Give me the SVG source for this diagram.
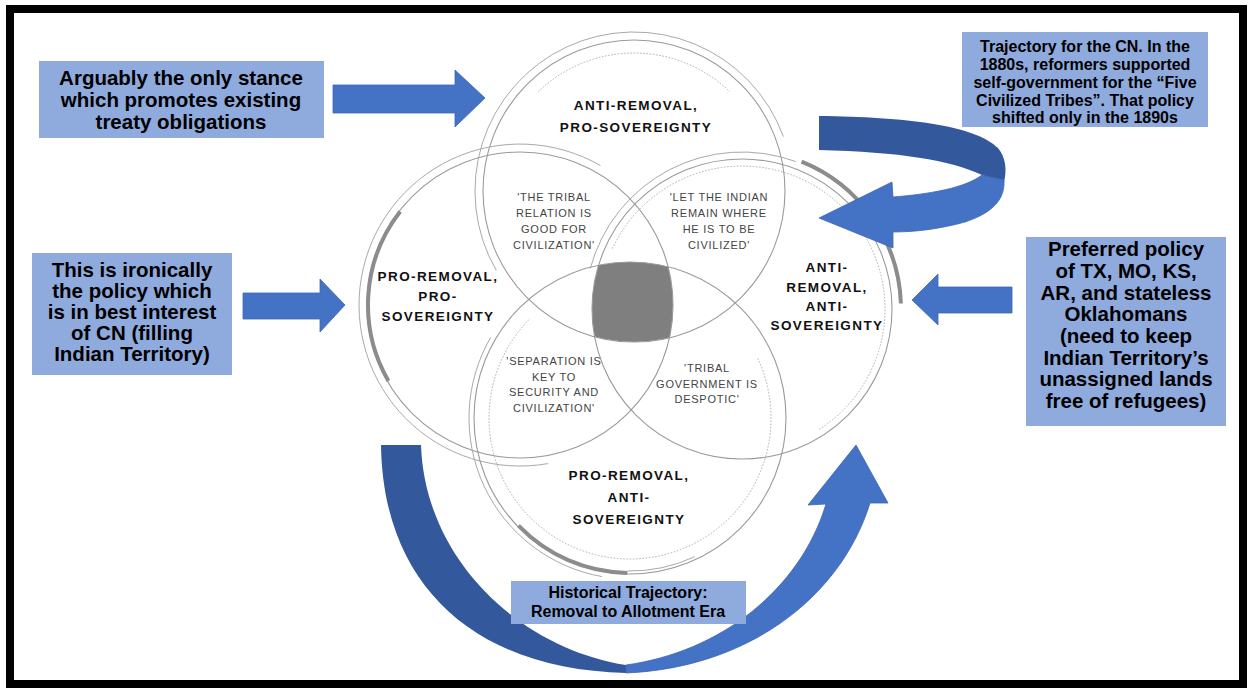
<svg xmlns="http://www.w3.org/2000/svg" width="1249" height="691" viewBox="0 0 1249 691">
  <defs>
    <style>
      .box { fill: #8faadc; }
      .boxtxt { font-family: "Liberation Sans", Arial, sans-serif; font-weight: bold; fill: #000; text-anchor: middle; }
      .ring { fill: none; stroke: #9a9a9a; stroke-width: 1.1; }
      .ring2 { fill: none; stroke: #a9a9a9; stroke-width: 1; }
      .dash { fill: none; stroke: #a6a6a6; stroke-width: 0.9; stroke-dasharray: 1.6 1.6; }
      .thick { fill: none; stroke: #8c8c8c; stroke-width: 4; }
      .title { font-family: "Liberation Sans", Arial, sans-serif; font-weight: bold; font-size: 13.5px; letter-spacing: 1.4px; fill: #111; text-anchor: middle; }
      .quote { font-family: "Liberation Sans", Arial, sans-serif; font-size: 11px; letter-spacing: 0.75px; fill: #444; text-anchor: middle; }
      .arrow { fill: #4472c4; stroke: #3d67b4; stroke-width: 0.8; }
      .dark { fill: #33589c; }
    </style>
    <clipPath id="clipTop"><circle cx="634" cy="191" r="151"/></clipPath>
    <clipPath id="clipLeft"><circle cx="520" cy="305" r="153"/></clipPath>
    <clipPath id="clipRight"><circle cx="742" cy="309" r="150"/></clipPath>
    <clipPath id="clipBottom"><circle cx="630" cy="418" r="156"/></clipPath>
  </defs>

  <rect width="1249" height="691" fill="#fff"/>
  <!-- outer frame -->
  <rect x="10" y="9" width="1233" height="675" fill="none" stroke="#000" stroke-width="8"/>

  <!-- shared core of the four stances -->
  <g id="core">
    <g clip-path="url(#clipTop)">
      <g clip-path="url(#clipLeft)">
        <g clip-path="url(#clipRight)">
          <rect x="560" y="240" width="140" height="130" fill="#7f7f7f" clip-path="url(#clipBottom)"/>
        </g>
      </g>
    </g>
  </g>

  <!-- top stance -->
  <g id="anti-removal-pro-sovereignty">
    <circle class="ring" cx="634" cy="191" r="151"/>
    <path class="ring2" d="M496.3,270.5 A159,159 0 1 1 783.4,136.6"/>
    <path class="dash" d="M538.1,91.8 A138,138 0 0 1 729.9,91.8"/>
    <text class="title" x="636" y="110">ANTI-REMOVAL,</text>
    <text class="title" x="636" y="132">PRO-SOVEREIGNTY</text>
  </g>

  <!-- left stance -->
  <g id="pro-removal-pro-sovereignty">
    <circle class="ring" cx="520" cy="305" r="153"/>
    <path class="ring2" d="M548,463.6 A161,161 0 1 1 600.5,165.6"/>
    <path class="thick" d="M388.4,381 A152,152 0 0 1 400.2,211.4"/>
    <text class="title" x="438" y="281">PRO-REMOVAL,</text>
    <text class="title" x="438" y="301">PRO-</text>
    <text class="title" x="438" y="321">SOVEREIGNTY</text>
  </g>

  <!-- right stance -->
  <g id="anti-removal-anti-sovereignty">
    <circle class="ring" cx="742" cy="309" r="150"/>
    <path class="ring2" d="M590.3,268.4 A157,157 0 0 1 795.7,161.5"/>
    <path class="dash" d="M612.4,248.6 A143,143 0 1 1 817.8,430.3"/>
    <path class="thick" d="M801.6,161.6 A159,159 0 0 1 900.9,303.5"/>
    <text class="title" x="827" y="272">ANTI-</text>
    <text class="title" x="827" y="292">REMOVAL,</text>
    <text class="title" x="827" y="311">ANTI-</text>
    <text class="title" x="827" y="330">SOVEREIGNTY</text>
  </g>

  <!-- bottom stance -->
  <g id="pro-removal-anti-sovereignty">
    <circle class="ring" cx="630" cy="418" r="156"/>
    <path class="ring2" d="M602,576.6 A161,161 0 0 1 490.6,337.5"/>
    <path class="ring2" d="M694.7,556.7 A153,153 0 0 1 627.3,571"/>
    <path class="dash" d="M757.8,358.4 A141,141 0 1 1 530.3,318.3"/>
    <path class="thick" d="M627.3,573 A155,155 0 0 1 518.5,525.7"/>
    <text class="title" x="629" y="480">PRO-REMOVAL,</text>
    <text class="title" x="629" y="502">ANTI-</text>
    <text class="title" x="629" y="524">SOVEREIGNTY</text>
  </g>

  <!-- overlap statements -->
  <g id="overlap-top-left">
    <text class="quote" x="554" y="201">'THE TRIBAL</text>
    <text class="quote" x="554" y="217">RELATION IS</text>
    <text class="quote" x="554" y="233">GOOD FOR</text>
    <text class="quote" x="554" y="249">CIVILIZATION'</text>
  </g>
  <g id="overlap-top-right">
    <text class="quote" x="719" y="201">'LET THE INDIAN</text>
    <text class="quote" x="719" y="217">REMAIN WHERE</text>
    <text class="quote" x="719" y="233">HE IS TO BE</text>
    <text class="quote" x="719" y="249">CIVILIZED'</text>
  </g>
  <g id="overlap-bottom-left">
    <text class="quote" x="554" y="365">'SEPARATION IS</text>
    <text class="quote" x="554" y="381">KEY TO</text>
    <text class="quote" x="554" y="396">SECURITY AND</text>
    <text class="quote" x="554" y="412">CIVILIZATION'</text>
  </g>
  <g id="overlap-bottom-right">
    <text class="quote" x="707" y="372">'TRIBAL</text>
    <text class="quote" x="707" y="388">GOVERNMENT IS</text>
    <text class="quote" x="707" y="403">DESPOTIC'</text>
  </g>

  <!-- annotation boxes -->
  <g id="box-treaty">
    <rect class="box" x="39" y="61" width="285" height="77"/>
    <text class="boxtxt" font-size="20.5" x="181" y="85">Arguably the only stance</text>
    <text class="boxtxt" font-size="20.5" x="181" y="107">which promotes existing</text>
    <text class="boxtxt" font-size="20.5" x="181" y="129">treaty obligations</text>
  </g>
  <g id="box-cn-interest">
    <rect class="box" x="32" y="253" width="200" height="122"/>
    <text class="boxtxt" font-size="20.5" x="132" y="277">This is ironically</text>
    <text class="boxtxt" font-size="20.5" x="132" y="298">the policy which</text>
    <text class="boxtxt" font-size="20.5" x="132" y="319">is in best interest</text>
    <text class="boxtxt" font-size="20.5" x="132" y="340">of CN (filling</text>
    <text class="boxtxt" font-size="20.5" x="132" y="361">Indian Territory)</text>
  </g>
  <g id="box-states">
    <rect class="box" x="1026" y="237" width="200" height="189"/>
    <text class="boxtxt" font-size="20.5" x="1126" y="256">Preferred policy</text>
    <text class="boxtxt" font-size="20.5" x="1126" y="278">of TX, MO, KS,</text>
    <text class="boxtxt" font-size="20.5" x="1126" y="300">AR, and stateless</text>
    <text class="boxtxt" font-size="20.5" x="1126" y="321">Oklahomans</text>
    <text class="boxtxt" font-size="20.5" x="1126" y="343">(need to keep</text>
    <text class="boxtxt" font-size="20.5" x="1126" y="365">Indian Territory’s</text>
    <text class="boxtxt" font-size="20.5" x="1126" y="386">unassigned lands</text>
    <text class="boxtxt" font-size="20.5" x="1126" y="408">free of refugees)</text>
  </g>
  <g id="box-cn-trajectory">
    <rect class="box" x="962" y="32" width="246" height="95"/>
    <text class="boxtxt" font-size="16" x="1085" y="52">Trajectory for the CN. In the</text>
    <text class="boxtxt" font-size="16" x="1085" y="70">1880s, reformers supported</text>
    <text class="boxtxt" font-size="16" x="1085" y="88">self-government for the “Five</text>
    <text class="boxtxt" font-size="16" x="1085" y="106">Civilized Tribes”. That policy</text>
    <text class="boxtxt" font-size="16" x="1085" y="123">shifted only in the 1890s</text>
  </g>

  <!-- arrows -->
  <g id="connectors">
    <path class="arrow" d="M333,85 L455,85 L455,70 L485,98 L455,127 L455,113 L333,113 Z"/>
    <path class="arrow" d="M243,293 L320,293 L320,279 L345,305 L320,332 L320,319 L243,319 Z"/>
    <path class="arrow" d="M1012,287 L938,287 L938,274 L912,300 L938,325 L938,313 L1012,313 Z"/>
    <!-- looping ribbon arrow, top right -->
    <path class="dark" d="M819,116 C905,117 975,125 998,148 C1006,158 1007,170 1004,182 L982,175 C950,160 900,152 819,150 Z"/>
    <path class="arrow" d="M1004,180 C1005,198 995,212 965,222 C940,229 915,232 893,232 L893,248 L819,218 L892,182 L893,197 C930,194 965,188 982,175 Z"/>
    <!-- sweeping arrow under the circles -->
    <path class="dark" d="M381,445 L421,445 C425,560 520,648 626,665 L626,673 C480,670 383,590 381,445 Z"/>
    <path class="arrow" d="M626,673 C745,668 840,600 870,503 L888,503 L856,445 L808,505 L826,504 C800,590 720,652 626,665 Z"/>
  </g>

  <g id="box-historical">
    <rect class="box" x="511" y="581" width="235" height="43"/>
    <text class="boxtxt" font-size="16" x="628" y="598">Historical Trajectory:</text>
    <text class="boxtxt" font-size="16" x="628" y="617">Removal to Allotment Era</text>
  </g>
</svg>
